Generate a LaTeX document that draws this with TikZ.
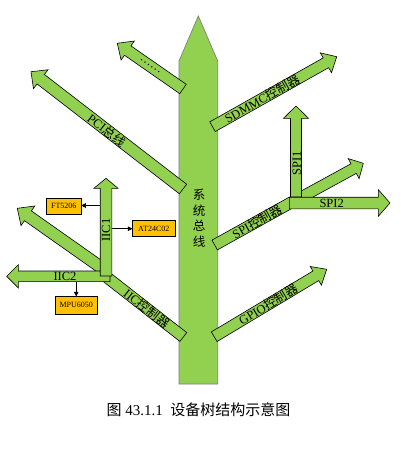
\documentclass[tikz,border=0pt]{standalone}
\usepackage{fontspec}
\setmainfont{Liberation Serif}
\newfontfamily\cjk{Noto Sans CJK SC}
\usetikzlibrary{calc,arrows.meta}
\definecolor{leaf}{HTML}{92D050}
\definecolor{chip}{HTML}{FFC000}
\definecolor{trunkline}{HTML}{7F7F7F}
% #1 start, #2 tip, #3 half shaft, #4 half head, #5 head length
\newcommand\blockarrow[5]{%
  \coordinate (hb) at ($(#2)!#5!(#1)$);
  \draw[branch] ($(#1)!#3!90:(#2)$) -- ($(hb)!#3!90:(#2)$) -- ($(hb)!#4!90:(#2)$) -- (#2)
    -- ($(hb)!#4!-90:(#2)$) -- ($(hb)!#3!-90:(#2)$) -- ($(#1)!#3!-90:(#2)$) -- cycle;}
\newcommand\plainbar[3]{%
  \draw[branch] ($(#1)!#3!90:(#2)$) -- ($(#2)!#3!-90:(#1)$) -- ($(#2)!#3!90:(#1)$)
    -- ($(#1)!#3!-90:(#2)$) -- cycle;}
\begin{document}
\begin{tikzpicture}[x=1pt,y=-1pt,
  branch/.style={fill=leaf,draw=black,line width=0.6pt,line join=miter},
  lab/.style={font=\fontsize{12.5}{14}\selectfont,inner sep=0pt},
  chipbox/.style={fill=chip,draw=black,line width=0.6pt,font=\fontsize{8}{9}\selectfont,inner sep=0pt},
  link/.style={draw=black,line width=0.5pt,-{Triangle[length=4.5pt,width=4.5pt]}}]
\useasboundingbox (0,0) rectangle (401,450);
\fill[white] (0,0) rectangle (401,450);

% trunk
\draw[fill=leaf,draw=trunkline,line width=0.7pt] (179,384) -- (179,61) -- (198.3,16) -- (217.7,61) -- (217.7,384) -- cycle;
\node[font=\fontsize{12.5}{15.5}\selectfont\cjk,align=center,inner sep=0pt] (trunklab) at (199,218.5) {系\\统\\总\\线};

% coordinates
\coordinate (dotsA) at (183,89);    \coordinate (dotsB) at (117.3,43.3);
\coordinate (pciA) at (183,189);    \coordinate (pciB) at (31,71.7);
\coordinate (sdA) at (212.5,126.7); \coordinate (sdB) at (336.7,56.7);
\coordinate (gpA) at (214.2,336.7); \coordinate (gpB) at (326.7,269.3);
\coordinate (spA) at (214.7,245);   \coordinate (spB) at (292,202);
\coordinate (sdgA) at (298,199);    \coordinate (sdgB) at (363.3,163.3);
\coordinate (s1A) at (296,197);     \coordinate (s1B) at (296,106);
\coordinate (s2A) at (289.3,203);   \coordinate (s2B) at (390,203);
\coordinate (icA) at (183.3,337);   \coordinate (icB) at (104,275);
\coordinate (idgA) at (102,268);    \coordinate (idgB) at (17.3,208.3);
\coordinate (i2A) at (110,276.3);   \coordinate (i2B) at (6.7,276.3);
\coordinate (i1A) at (106,276);     \coordinate (i1B) at (106,178.3);

% upper-left branches
\blockarrow{dotsA}{dotsB}{5.7pt}{11.6pt}{12.7pt}
\path (dotsA) -- (dotsB) node[lab,sloped,pos=0.5] (dotslab) {……};
\blockarrow{pciA}{pciB}{6pt}{11.9pt}{12.3pt}
\path (pciA) -- (pciB) node[lab,sloped,pos=0.5] (pcilab) {PCI{\cjk 总线}};

% right branches
\blockarrow{sdA}{sdB}{5.6pt}{11.4pt}{12.4pt}
\path (sdA) -- (sdB) node[lab,sloped,pos=0.4] (sdlab) {SDMMC{\cjk 控制器}};
\blockarrow{gpA}{gpB}{5.6pt}{10.9pt}{12.7pt}
\path (gpA) -- (gpB) node[lab,sloped,pos=0.48] (gplab) {GPIO{\cjk 控制器}};

% SPI
\plainbar{spA}{spB}{5.6pt}
\path (spA) -- (spB) node[lab,sloped,pos=0.55] (splab) {SPI{\cjk 控制器}};
\blockarrow{sdgA}{sdgB}{5.5pt}{11.4pt}{11pt}
\blockarrow{s1A}{s1B}{5.5pt}{12.5pt}{12.3pt}
\node[lab,rotate=90] (s1lab) at (296.7,163.3) {SPI1};
\blockarrow{s2A}{s2B}{5.8pt}{13.3pt}{11.7pt}
\node[lab] (s2lab) at (331.7,203.5) {SPI2};

% IIC
\plainbar{icA}{icB}{5.6pt}
\path (icA) -- (icB) node[lab,sloped,pos=0.46] (iclab) {IIC{\cjk 控制器}};
\blockarrow{idgA}{idgB}{6pt}{12pt}{13pt}
\blockarrow{i2A}{i2B}{5.3pt}{11.7pt}{11.7pt}
\node[lab] (i2lab) at (65,276.3) {IIC2};
\blockarrow{i1A}{i1B}{5.8pt}{12pt}{10pt}
\node[lab,rotate=90] (i1lab) at (106,230) {IIC1};

% chips
\node[chipbox,minimum width=34.3pt,minimum height=16pt] (ft) at (63.8,206.3) {FT5206};
\node[chipbox,minimum width=42.3pt,minimum height=16pt] (at) at (153.8,228.7) {AT24C02};
\node[chipbox,minimum width=42.3pt,minimum height=17.3pt] (mpu) at (76.2,305.3) {MPU6050};

\coordinate (i1L) at (100.2,205.5);
\coordinate (i1R) at (111.8,228.7);
\coordinate (i2D) at (76.2,281.6);
\draw[link] (i1L) -- (i1L -| ft.east);
\draw[link] (i1R) -- (at.west);
\draw[link] (i2D) -- (mpu.north);

% caption
\node[font=\fontsize{15}{18}\selectfont,inner sep=0pt] (cap) at (198.5,410) {{\cjk 图} 43.1.1\ \ {\cjk 设备树结构示意图}};
\end{tikzpicture}
\end{document}
